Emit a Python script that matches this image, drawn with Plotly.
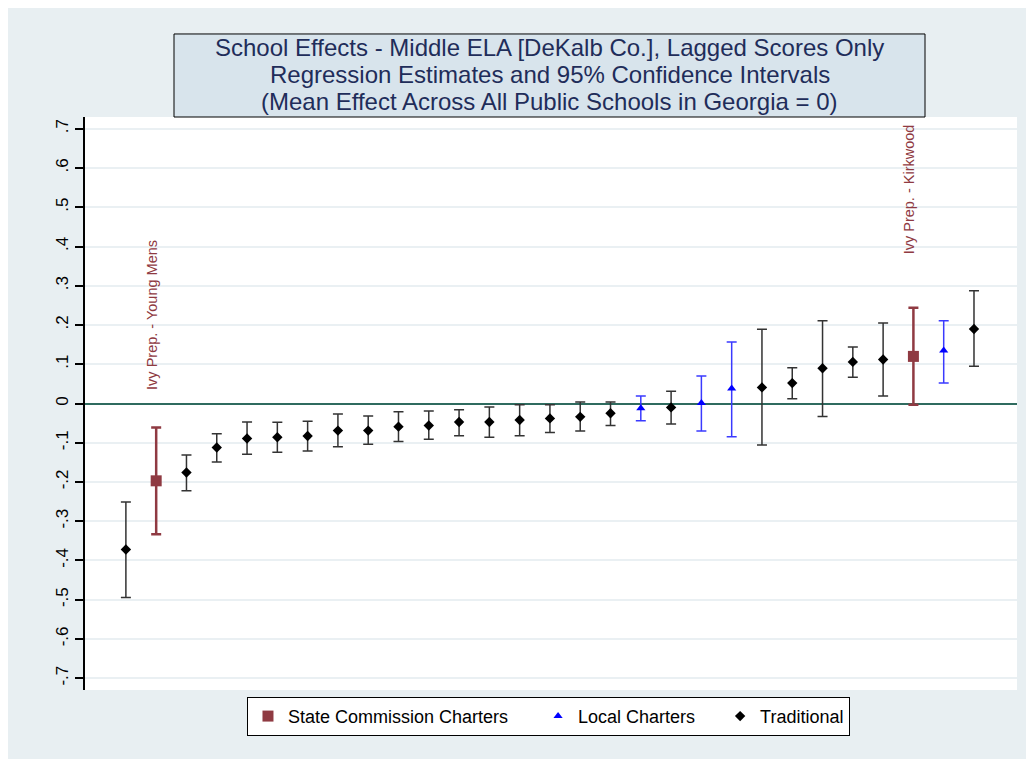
import plotly.graph_objects as go

# school effects sorted by estimate (rank 1..29)
rank = list(range(1, 30))
est = [-0.372, -0.197, -0.176, -0.112, -0.089, -0.086, -0.083, -0.069, -0.069, -0.059,
       -0.056, -0.047, -0.047, -0.042, -0.038, -0.034, -0.025, -0.012, -0.010, 0.001,
       0.038, 0.041, 0.052, 0.090, 0.106, 0.112, 0.120, 0.135, 0.190]
ci_lo = [-0.494, -0.333, -0.222, -0.149, -0.129, -0.124, -0.121, -0.110, -0.104, -0.097,
         -0.091, -0.082, -0.086, -0.082, -0.074, -0.070, -0.056, -0.044, -0.052, -0.070,
         -0.085, -0.106, 0.012, -0.033, 0.067, 0.019, -0.003, 0.052, 0.095]
ci_hi = [-0.251, -0.061, -0.131, -0.077, -0.047, -0.048, -0.045, -0.027, -0.032, -0.021,
         -0.019, -0.016, -0.009, -0.003, -0.003, 0.004, 0.004, 0.019, 0.031, 0.070,
         0.157, 0.189, 0.091, 0.211, 0.144, 0.205, 0.244, 0.211, 0.287]
kind = ['T', 'S', 'T', 'T', 'T', 'T', 'T', 'T', 'T', 'T',
        'T', 'T', 'T', 'T', 'T', 'T', 'T', 'L', 'T', 'L',
        'L', 'T', 'T', 'T', 'T', 'T', 'S', 'L', 'T']

labels = {2: 'Ivy Prep. - Young Mens', 27: 'Ivy Prep. - Kirkwood'}
label_y = {2: 0.03, 27: 0.376}

title_lines = ['School Effects - Middle ELA [DeKalb Co.], Lagged Scores Only',
               'Regression Estimates and 95% Confidence Intervals',
               '(Mean Effect Across All Public Schools in Georgia = 0)']

yticks = [-0.7, -0.6, -0.5, -0.4, -0.3, -0.2, -0.1, 0, 0.1, 0.2, 0.3, 0.4, 0.5, 0.6, 0.7]
yticktext = ['-.7', '-.6', '-.5', '-.4', '-.3', '-.2', '-.1', '0', '.1', '.2', '.3', '.4', '.5', '.6', '.7']

groups = [
    ('S', 'State Commission Charters', '#8f3a42', 'square', 11, 2.5, '#8f3a42', 5),
    ('L', 'Local Charters', '#0000ff', 'triangle-up', 8, 1.5, '#3a3aff', 4),
    ('T', 'Traditional', '#000000', 'diamond', 8, 1.5, '#333333', 0),
]

FONT = 'Liberation Sans, Arial, sans-serif'
NB = '\u00a0'

fig = go.Figure()
for code, name, col, sym, size, lw, ecol, pad in groups:
    idx = [i for i, k in enumerate(kind) if k == code]
    xs = [rank[i] for i in idx]
    ys = [est[i] for i in idx]
    up = [ci_hi[i] - est[i] for i in idx]
    dn = [est[i] - ci_lo[i] for i in idx]
    fig.add_trace(go.Scatter(
        x=xs, y=ys, mode='markers', name=name + NB * pad,
        marker=dict(symbol=sym, size=size, color=col),
        error_y=dict(type='data', array=up, arrayminus=dn, color=ecol,
                     thickness=lw, width=5),
    ))

for r, txt in labels.items():
    fig.add_annotation(x=r, y=label_y[r], text=txt, textangle=-90, showarrow=False,
                       xanchor='center', yanchor='bottom', xshift=-4,
                       font=dict(family=FONT, size=14.5, color='#8f3a42'))

# title box
fig.add_shape(type='rect', xref='paper', yref='paper', x0=0.0955, x1=0.9013, y0=1.0, y1=1.1449,
              fillcolor='#d8e4ec', line=dict(color='black', width=1), layer='above')
for line, ty in zip(title_lines, [1.1213, 1.0742, 1.0271]):
    fig.add_annotation(xref='paper', yref='paper', x=0.4984, y=ty, xanchor='center',
                       yanchor='middle', text=line, showarrow=False,
                       font=dict(family=FONT, size=24, color='#1f2d5a'))

fig.update_xaxes(range=[-0.35, 30.42], showticklabels=False, showgrid=False,
                 zeroline=False, showline=False, ticks='')
fig.update_yaxes(range=[-0.73, 0.73], tickvals=yticks, ticktext=yticktext, tickangle=-90,
                 ticks='outside', ticklen=8, tickwidth=1.5, tickcolor='black',
                 showline=True, linecolor='black', linewidth=1.5,
                 showgrid=True, gridcolor='#eaf0f3', gridwidth=1.5,
                 zeroline=True, zerolinecolor='#2f6b5f', zerolinewidth=2,
                 tickfont=dict(family=FONT, size=17, color='black'))

fig.update_layout(
    width=1026, height=751,
    margin=dict(l=77, r=17, t=109, b=69),
    paper_bgcolor='#e8eff2', plot_bgcolor='white',
    font=dict(family=FONT, color='black'),
    showlegend=True,
    legend=dict(orientation='h', x=0.1738, xanchor='left', y=-0.012, yanchor='top',
                bgcolor='white', bordercolor='black', borderwidth=1,
                font=dict(family=FONT, size=18, color='black')),
)

fig.write_html('out.html')
